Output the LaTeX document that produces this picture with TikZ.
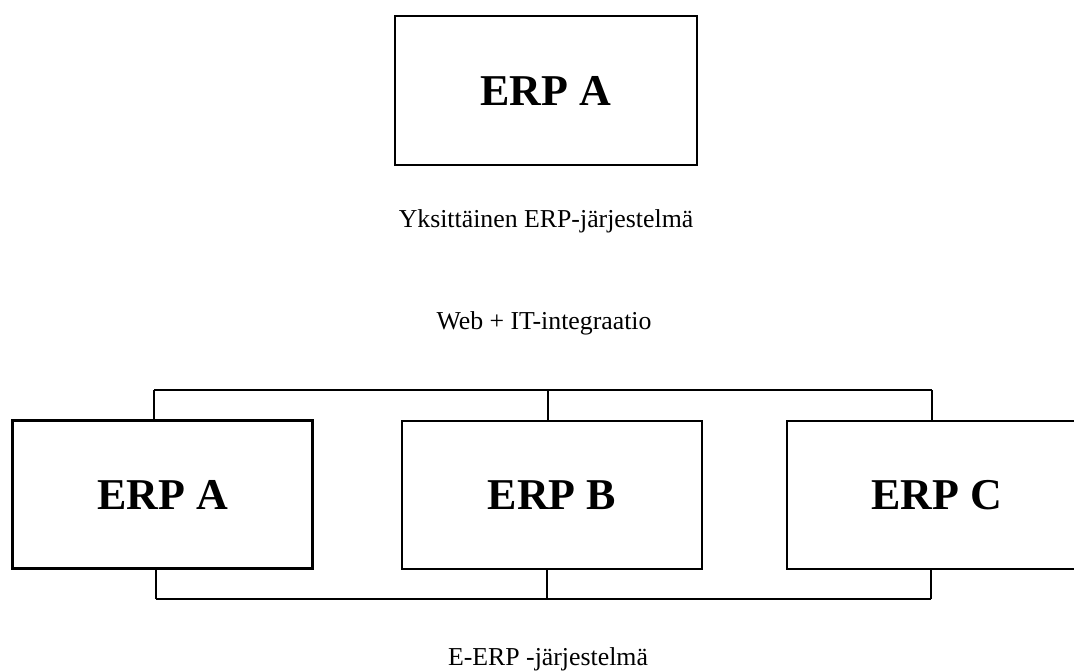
\documentclass[tikz,border=0pt]{standalone}
\usepackage{fontspec}
\setmainfont{Liberation Serif}
\begin{document}
\begin{tikzpicture}[x=1pt,y=-1pt,
  erpbox/.style={draw,line width=2.8pt,rectangle,inner sep=0pt,
    minimum width=300pt,minimum height=148pt,
    font=\fontsize{44}{48}\selectfont\bfseries},
  caption/.style={inner sep=0pt,font=\fontsize{25.8}{29}\selectfont},
  bus/.style={line width=2.8pt}]
\path[use as bounding box,clip] (0,0) rectangle (1074,670);

% single system
\node[erpbox,minimum width=302pt,minimum height=149pt] (single) at (546,90.5) {ERP A};
\node[caption,anchor=base] (singlecap) at (546,227) {Yksittäinen ERP-järjestelmä};

\node[caption,anchor=base] (webcap) at (544,329) {Web + IT-integraatio};

% integrated systems
\node[erpbox] (ea) at (162.5,494.5) {ERP A};
\node[erpbox] (eb) at (552,495) {ERP B};
\node[erpbox] (ec) at (937,495) {ERP C};

% upper bus
\coordinate (ta) at (154,390);
\coordinate (tb) at (548,390);
\coordinate (tc) at (932,390);
\draw[bus] (ta) -- (tc);
\draw[bus] (ta) -- (ta |- ea.north);
\draw[bus] (tb) -- (tb |- eb.north);
\draw[bus] (tc) -- (tc |- ec.north);

% lower bus
\coordinate (ba) at (156,599);
\coordinate (bb) at (547,599);
\coordinate (bc) at (931,599);
\draw[bus] (ba) -- (bc);
\draw[bus] (ba) -- (ba |- ea.south);
\draw[bus] (bb) -- (bb |- eb.south);
\draw[bus] (bc) -- (bc |- ec.south);

\node[caption,anchor=base] (ecap) at (548,665) {E-ERP -järjestelmä};
\end{tikzpicture}
\end{document}
